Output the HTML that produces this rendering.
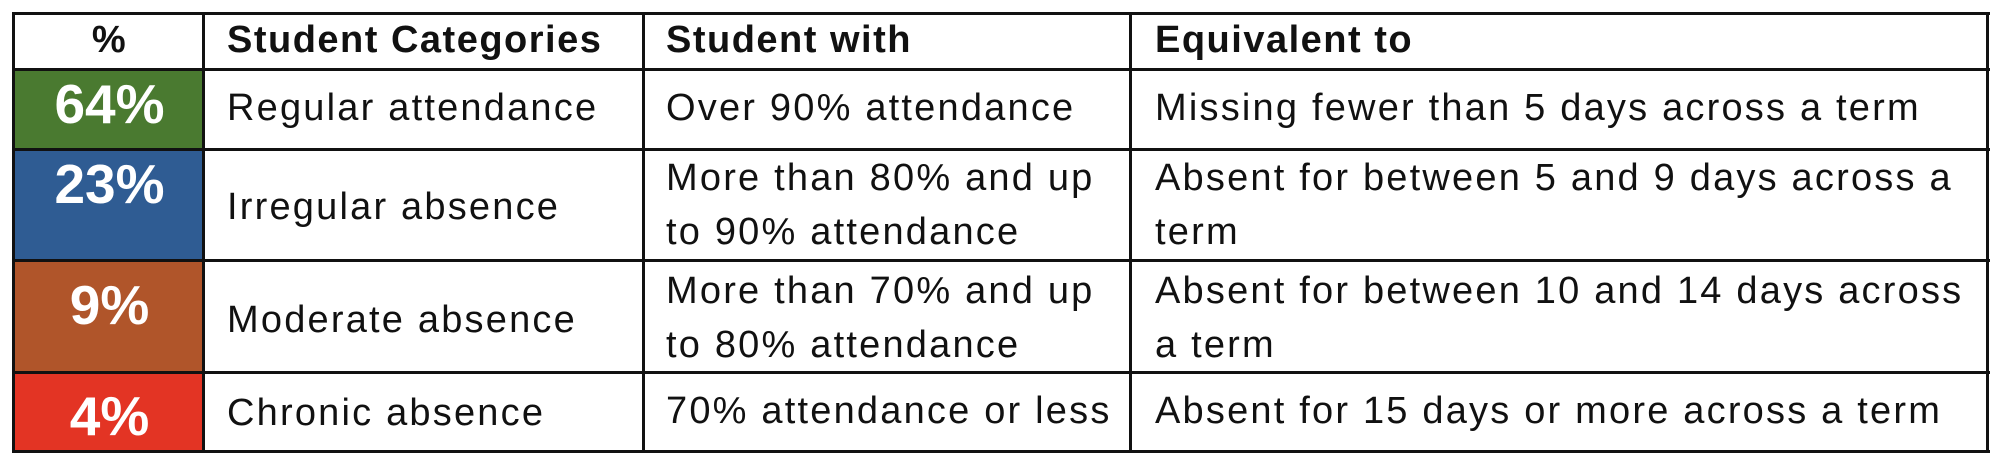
<!DOCTYPE html>
<html><head><meta charset="utf-8"><style>
html,body{margin:0;padding:0;background:#fff;width:2000px;height:464px;overflow:hidden;position:relative;font-family:"Liberation Sans",sans-serif;color:#111}
.t{position:absolute;font-size:38px;line-height:54px;letter-spacing:2.2px;white-space:nowrap}
.b{font-weight:bold;letter-spacing:1.5px}
.p{position:absolute;width:189px;left:15px;text-align:center;color:#fff;font-weight:bold;font-size:55px;line-height:55px}
.h{position:absolute;background:#111}
.c{position:absolute;left:15px;width:189px}
</style></head><body>
<div class="c" style="top:70px;height:80px;background:#4a7a30"></div>
<div class="c" style="top:150px;height:112px;background:#2f5c93"></div>
<div class="c" style="top:262px;height:113px;background:#b0552a"></div>
<div class="c" style="top:373px;height:78px;background:#e33424"></div>
<div class="h" style="left:12px;width:1978px;top:12px;height:3px"></div>
<div class="h" style="left:12px;width:1978px;top:68px;height:3px"></div>
<div class="h" style="left:12px;width:1978px;top:148px;height:3px"></div>
<div class="h" style="left:12px;width:1978px;top:259px;height:3px"></div>
<div class="h" style="left:12px;width:1978px;top:371px;height:3px"></div>
<div class="h" style="left:12px;width:1978px;top:450px;height:3px"></div>
<div class="h" style="left:12px;width:3px;top:12px;height:441px"></div>
<div class="h" style="left:202px;width:3px;top:12px;height:441px"></div>
<div class="h" style="left:642px;width:3px;top:12px;height:441px"></div>
<div class="h" style="left:1129px;width:3px;top:12px;height:441px"></div>
<div class="h" style="left:1986px;width:3px;top:12px;height:441px"></div>

<div class="t b" style="left:15px;width:189px;text-align:center;top:13px">%</div>
<div class="t b" style="left:227px;top:13px">Student Categories</div>
<div class="t b" style="left:666px;top:13px">Student with</div>
<div class="t b" style="left:1155px;top:13px">Equivalent to</div>

<div class="p" style="top:77px">64%</div>
<div class="p" style="top:157px">23%</div>
<div class="p" style="top:278px">9%</div>
<div class="p" style="top:389px">4%</div>

<div class="t" style="left:227px;top:81px">Regular attendance</div>
<div class="t" style="left:227px;top:180px">Irregular absence</div>
<div class="t" style="left:227px;top:293px">Moderate absence</div>
<div class="t" style="left:227px;top:386px">Chronic absence</div>

<div class="t" style="left:666px;top:81px">Over 90% attendance</div>
<div class="t" style="left:666px;top:151px">More than 80% and up<br>to 90% attendance</div>
<div class="t" style="left:666px;top:264px">More than 70% and up<br>to 80% attendance</div>
<div class="t" style="left:666px;top:384px">70% attendance or less</div>

<div class="t" style="left:1155px;top:81px">Missing fewer than 5 days across a term</div>
<div class="t" style="left:1155px;top:151px">Absent for between 5 and 9 days across a<br>term</div>
<div class="t" style="left:1155px;top:264px">Absent for between 10 and 14 days across<br>a term</div>
<div class="t" style="left:1155px;top:384px">Absent for 15 days or more across a term</div>
</body></html>
